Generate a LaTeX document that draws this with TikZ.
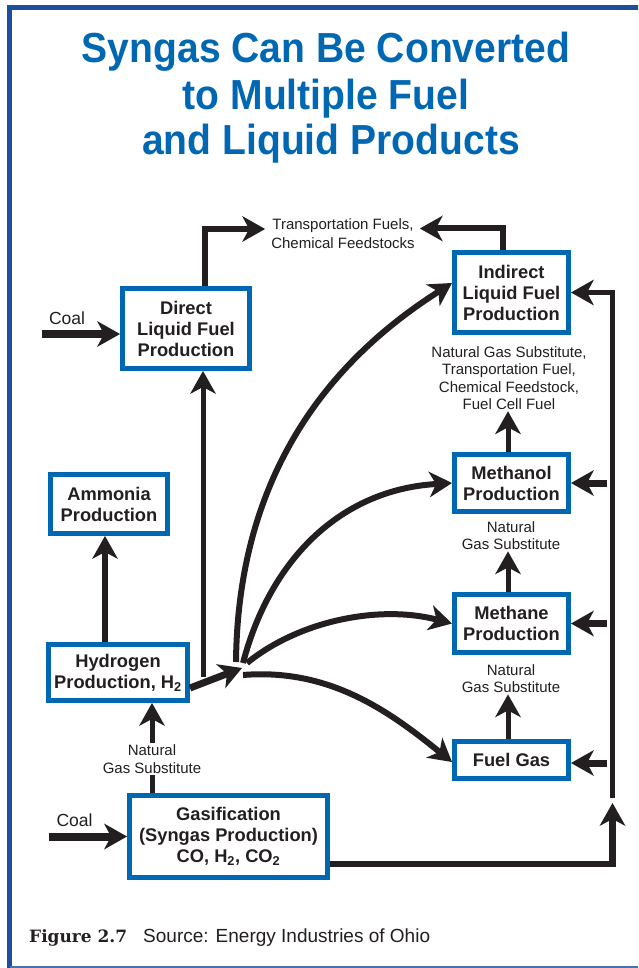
\documentclass[tikz,border=0pt]{standalone}
\usepackage{fontspec}
\setmainfont{Liberation Sans}
\newfontfamily\titlefont[FakeStretch=0.93]{Liberation Sans}
\newfontfamily\figfont{DejaVu Serif}
\usetikzlibrary{arrows.meta,calc}
\definecolor{ink}{HTML}{231F20}
\definecolor{boxblue}{HTML}{0068B3}
\definecolor{titleblue}{HTML}{0068B3}
\definecolor{frameblue}{HTML}{1D4F9E}
\begin{document}
\begin{tikzpicture}[x=1pt,y=-1pt,
  box/.style={draw=boxblue, line width=5pt, fill=white, inner sep=0pt, align=center,
    font=\fontsize{18.3}{21}\selectfont\bfseries, text=ink},
  lbl/.style={inner sep=1.5pt, align=center, font=\fontsize{15}{17.4}\selectfont, text=ink},
  coallbl/.style={inner sep=0pt, font=\fontsize{17.5}{20}\selectfont, text=ink},
  ttl/.style={anchor=base, inner sep=0pt, text=titleblue, font=\titlefont\bfseries\fontsize{42}{46}\selectfont},
  tipped/.style={-{Stealth[length=23pt,width=26pt,inset=7pt,line width=0pt]}},
  conn/.style={draw=ink, line join=miter},
]
\clip (0,0) rectangle (638,968);
\fill[white] (0,0) rectangle (638,968);
% frame
\draw[frameblue, line width=4.5pt, line join=miter] (9.5,968) -- (9.5,7.5) -- (645,7.5);
\draw[frameblue!80, line width=2pt] (9.5,966.5) -- (645,966.5);

% title
\node[ttl] (t1) at (326,63) {Syngas Can Be Converted};
\node[ttl] (t2) at (326,110) {to Multiple Fuel};
\node[ttl] (t3) at (331,155) {and Liquid Products};

% boxes
\node[box, minimum width=127pt, minimum height=80pt] (dlf) at (186,328.5) {Direct\\Liquid Fuel\\Production};
\node[box, minimum width=114pt, minimum height=80pt] (ind) at (511.5,292.5) {Indirect\\Liquid Fuel\\Production};
\node[box, minimum width=114pt, minimum height=57pt] (mol) at (511.5,483) {Methanol\\Production};
\node[box, minimum width=114pt, minimum height=58pt] (mne) at (511.5,623.5) {Methane\\Production};
\node[box, minimum width=114pt, minimum height=37pt] (fg) at (511.5,760) {Fuel Gas};
\node[box, minimum width=117pt, minimum height=59pt] (amm) at (109,504) {Ammonia\\Production};
\node[box, minimum width=139pt, minimum height=56pt] (hyd) at (118,672.5) {Hydrogen\\Production, H\textsubscript{2}};
\node[box, minimum width=198pt, minimum height=82pt] (gas) at (228.5,836.5) {Gasification\\(Syngas Production)\\CO, H\textsubscript{2}, CO\textsubscript{2}};

% labels
\node[lbl, font=\fontsize{15}{19}\selectfont] (tf) at (343,233.5) {Transportation Fuels,\\Chemical Feedstocks};
\node[lbl] (ngsl) at (509,378) {Natural Gas Substitute,\\Transportation Fuel,\\Chemical Feedstock,\\Fuel Cell Fuel};
\node[lbl] (ngs2) at (511,535.5) {Natural\\Gas Substitute};
\node[lbl] (ngs3) at (511,678.5) {Natural\\Gas Substitute};
\node[lbl] (ngs1) at (152,759) {Natural\\Gas Substitute};
\node[coallbl] (coalA) at (67,318.5) {Coal};
\node[coallbl] (coalB) at (74.5,820) {Coal};

% caption
\node[anchor=base west, inner sep=0pt, text=ink, font=\figfont\bfseries\fontsize{17}{20}\selectfont] (fig) at (29,942) {Figure 2.7};
\node[anchor=base west, inner sep=0pt, text=ink, font=\fontsize{19}{22}\selectfont] (src) at (143,942) {Source: Energy Industries of Ohio};

% coordinates
\coordinate (coal1) at (42,334);
\coordinate (coal2) at (49,836.5);
\coordinate (dst) at (203,677);
\coordinate (hub) at (242,668);
\coordinate (c1) at (236,662);
\coordinate (c2) at (243,663);
\coordinate (c3) at (247,663);
\coordinate (c4) at (243,675);
\coordinate (busbot) at (612.5,864);
\coordinate (busmid) at (612.5,803);
\coordinate (bustop) at (612.5,798);
\coordinate (stubx) at (607,0);
\coordinate (vx) at (508,0);
\coordinate (ax) at ([xshift=-4pt]amm.south);
\coordinate (dlfx) at ([xshift=18.5pt]dlf.north);
\coordinate (indx) at ([xshift=-8.5pt]ind.north);
\coordinate (tfl) at ([shift={(-4.5pt,4.5pt)}]tf.west);
\coordinate (tfr) at ([shift={(3.5pt,5pt)}]tf.east);

% coal inputs
\draw[conn, tipped, line width=8pt] (coal1) -- (coal1 -| dlf.west);
\draw[conn, tipped, line width=8pt] (coal2) -- (coal2 -| gas.west);

% products to transportation fuels
\draw[conn, tipped, line width=6pt] (dlfx) |- (tfl);
\draw[conn, tipped, line width=6pt] (indx) |- (tfr);

% hydrogen, ammonia, direct
\draw[conn, tipped, line width=5.5pt] (ax |- hyd.north) -- (ax);
\draw[conn, tipped, line width=5pt] (dst) -- (dst |- dlf.south);
\draw[conn, line width=5pt] (gas.north -| ngs1) -- (ngs1.south);
\draw[conn, tipped, line width=5pt] (ngs1.north) -- (ngs1 |- hyd.south);
\draw[conn, tipped, line width=7pt] ([yshift=-15.5pt]hyd.east) -- (hub);

% fan of curves
\draw[conn, tipped, line width=6pt] (c1) .. controls (238,450) and (355,345) .. ([yshift=9.5pt]ind.west);
\draw[conn, tipped, line width=6pt] (c2) .. controls (270,560) and (340,490) .. (mol.west);
\draw[conn, tipped, line width=6pt] (c3) .. controls (300,620) and (380,605) .. (mne.west);
\draw[conn, tipped, line width=6pt] (c4) .. controls (330,668) and (390,712) .. ([yshift=-2pt]fg.west);

% right column
\draw[conn, tipped, line width=5pt] (fg.north -| vx) -- (ngs3.south -| vx);
\draw[conn, tipped, line width=5pt] (mne.north -| vx) -- (ngs2.south -| vx);
\draw[conn, tipped, line width=5pt] (mol.north -| vx) -- (ngsl.south -| vx);

% bus
\draw[conn, tipped, line width=6.5pt] (gas.east |- busbot) -- (busbot) -- (busmid);
\draw[conn, tipped, line width=5pt] (bustop) |- (ind.east);
\draw[conn, tipped, line width=7pt] (mol.east -| stubx) -- (mol.east);
\draw[conn, tipped, line width=7pt] (mne.east -| stubx) -- (mne.east);
\draw[conn, tipped, line width=7pt] ([yshift=-3pt]fg.east -| stubx) -- ([yshift=-3pt]fg.east);
\end{tikzpicture}
\end{document}
